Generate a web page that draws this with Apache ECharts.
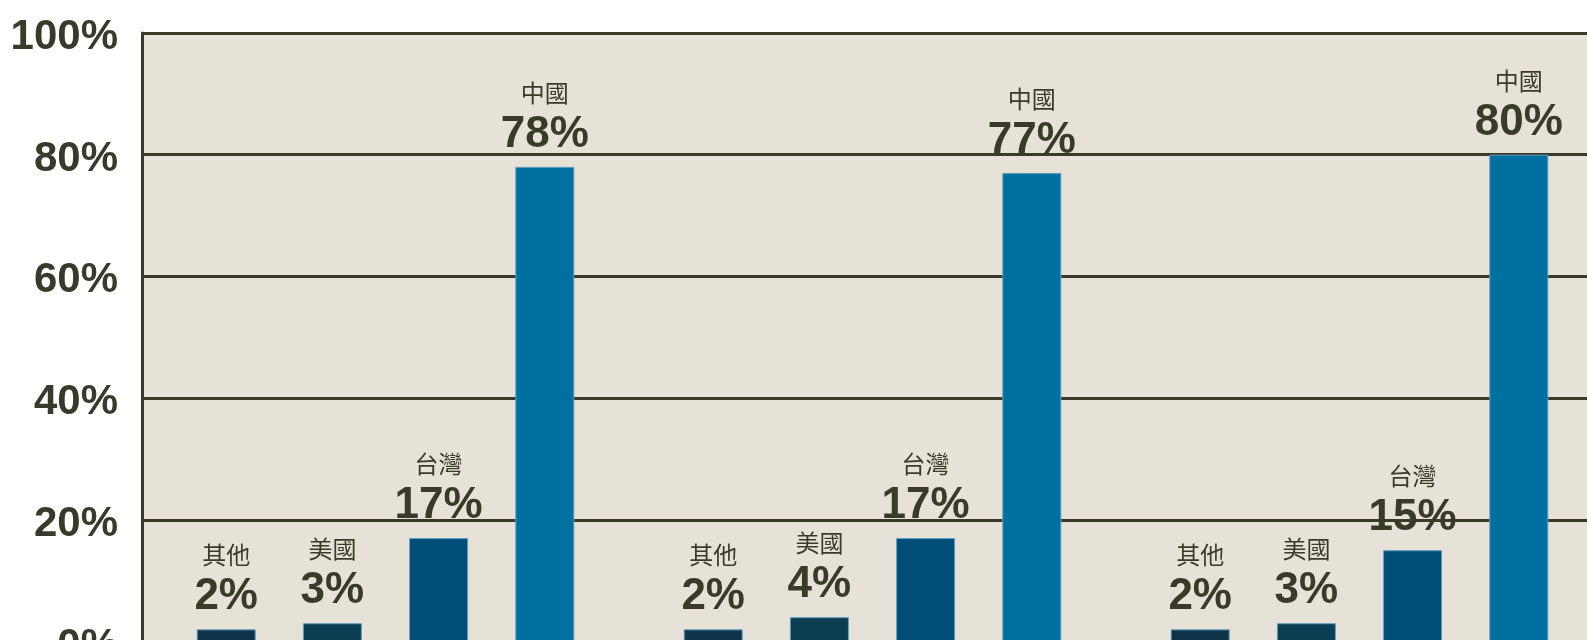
<!DOCTYPE html>
<html>
<head>
<meta charset="utf-8">
<script src="https://cdn.jsdelivr.net/npm/echarts@6/dist/echarts.min.js"></script>
<style>
  html, body { margin: 0; padding: 0; background: #fff; }
  #chart { width: 1587px; height: 640px; }
</style>
</head>
<body>
<div id="chart"></div>
<script>
// 三組資料（原圖未顯示組別名稱）
const groups = ['第一組', '第二組', '第三組'];
const seriesNames = ['其他', '美國', '台灣', '中國'];
const other = [2, 2, 2];
const usa = [3, 4, 3];
const taiwan = [17, 17, 15];
const china = [78, 77, 80];
const yTicks = [0, 20, 40, 60, 80, 100];

const colors = ['#0f3349', '#0a3e50', '#004d78', '#0070a0'];
const ink = '#3a3a2a';

const myChart = echarts.init(document.getElementById('chart'));

const makeSeries = (name, data, color) => ({
  name: name,
  type: 'bar',
  data: data,
  barWidth: 59,
  barGap: '80%',
  itemStyle: {
    color: color,
    borderColor: '#5e9fc2',
    borderWidth: 1
  },
  label: {
    show: true,
    position: 'top',
    distance: 8,
    formatter: p => '{n|' + name + '}\n{v|' + p.value + '%}',
    rich: {
      n: {
        fontFamily: '"Noto Sans CJK TC", "Noto Sans CJK SC", sans-serif',
        fontSize: 24,
        color: ink,
        lineHeight: 36,
        align: 'center'
      },
      v: {
        fontFamily: '"Liberation Sans", Arial, sans-serif',
        fontWeight: 'bold',
        fontSize: 44,
        color: ink,
        lineHeight: 48,
        align: 'center'
      }
    }
  }
});

const option = {
  animation: false,
  backgroundColor: '#ffffff',
  grid: {
    show: true,
    left: 142,
    top: 33,
    width: 1461,
    height: 608.5,
    containLabel: false,
    outerBoundsMode: 'none',
    backgroundColor: '#e6e2d7',
    borderWidth: 0
  },
  xAxis: {
    type: 'category',
    data: groups,
    axisLine: { show: false },
    axisTick: { show: false },
    axisLabel: { show: false }
  },
  yAxis: {
    type: 'value',
    min: yTicks[0],
    max: yTicks[yTicks.length - 1],
    interval: 20,
    axisLine: { show: true, lineStyle: { color: ink, width: 3 } },
    axisTick: { show: false },
    splitLine: { show: true, lineStyle: { color: ink, width: 3 } },
    axisLabel: {
      margin: 24,
      formatter: v => '{a|' + v + '%}',
      rich: {
        a: {
          padding: [9, 0, 0, 0],
          fontFamily: '"Liberation Sans", Arial, sans-serif',
          fontWeight: 'bold',
          fontSize: 42,
          color: ink
        }
      }
    }
  },
  series: [
    makeSeries(seriesNames[0], other, colors[0]),
    makeSeries(seriesNames[1], usa, colors[1]),
    makeSeries(seriesNames[2], taiwan, colors[2]),
    makeSeries(seriesNames[3], china, colors[3])
  ]
};

option && myChart.setOption(option);
</script>
</body>
</html>
